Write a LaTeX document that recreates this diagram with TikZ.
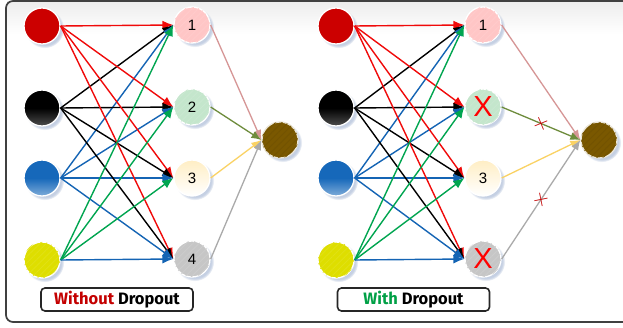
\documentclass[tikz,border=0pt]{standalone}
\usepackage{fontspec}
\setmainfont{Fira Sans}
\newfontfamily\numfont{Liberation Sans}
\usetikzlibrary{arrows.meta,shadows,patterns.meta}

% node fills
\definecolor{cRed}{RGB}{204,0,0}
\definecolor{cBlue}{RGB}{22,104,186}
\definecolor{cYellow}{RGB}{222,222,0}
\definecolor{cPink}{RGB}{255,198,198}
\definecolor{cMint}{RGB}{196,230,204}
\definecolor{cCream}{RGB}{255,238,196}
\definecolor{cGrey}{RGB}{198,198,198}
\definecolor{cBrown}{RGB}{122,88,0}
% connector colours
\definecolor{eRed}{RGB}{240,10,10}
\definecolor{eBlue}{RGB}{20,100,180}
\definecolor{eGreen}{RGB}{0,165,80}
\definecolor{oPink}{RGB}{214,150,150}
\definecolor{oOlive}{RGB}{110,140,60}
\definecolor{oGold}{RGB}{250,210,100}
\definecolor{oGrey}{RGB}{170,170,170}
\definecolor{tRed}{RGB}{196,0,0}
\definecolor{tGreen}{RGB}{0,160,70}
\definecolor{shadowc}{RGB}{150,170,205}

\tikzset{
  neuron/.style={circle, minimum size=36pt, inner sep=0pt, draw=white, line width=1.3pt,
    circular drop shadow={shadow xshift=2.5pt, shadow yshift=-2.5pt, shadow scale=1.08, fill=shadowc, opacity=0.55}},
  stripes/.style={postaction={pattern={Lines[angle=45,distance=4.5pt,line width=0.9pt]}, pattern color=#1}},
  hidnum/.style={font=\numfont\fontsize{15}{15}\selectfont, text=black},
  dropx/.style={font=\numfont\fontsize{29}{29}\selectfont, text=red},
  link/.style={line width=1.4pt, -{Latex[length=11pt,width=9pt]}},
  outlink/.style={line width=1.3pt, -{Latex[length=10pt,width=8pt]}},
  cutmark/.style={font=\fontsize{20}{20}\selectfont, text=tRed, inner sep=0pt, sloped},
  tag/.style={draw=black!85, line width=1.6pt, rounded corners=4pt, fill=white,
    minimum width=152pt, minimum height=23pt, inner sep=0pt,
    font=\bfseries\fontsize{16.5}{16.5}\selectfont},
}

\begin{document}
\begin{tikzpicture}[x=1pt,y=-1pt]
\useasboundingbox (0,0) rectangle (623,328);
\clip (0,0) rectangle (623,328);

% panel frame
\fill[white] (6,1) rectangle (660,322);
\shade[top color=black!7, bottom color=white] (7,2) rectangle (660,34);
\draw[draw=black!75, line width=1.7pt, rounded corners=7pt] (6,1) rectangle (660,322);

% ---------- inputs and output of each network ----------
\foreach \p/\dx/\ox in {L/0/280, R/294/305} {
  \begin{scope}[xshift=\dx]
    \node[neuron, fill=cRed] (\p i1) at (42,26) {};
    \node[neuron, top color=black, bottom color=black!70, middle color=black] (\p i2) at (42,108) {};
    \node[neuron, top color=cBlue, bottom color=cBlue!55!white, middle color=cBlue] (\p i3) at (42,178) {};
    \node[neuron, fill=cYellow, stripes=cYellow!92!white] (\p i4) at (42,260) {};
    \node[neuron, fill=cBrown, stripes=cBrown!94!black, draw=white!85!cBrown] (\p o) at (\ox,140) {};
  \end{scope}
}

% hidden layer, left panel
\node[neuron, fill=cPink, stripes=cPink!92!white, hidnum] (Lh1) at (192,25) {1};
\node[neuron, fill=cMint, stripes=cMint!90!white, hidnum] (Lh2) at (192,107) {2};
\node[neuron, top color=cCream, bottom color=white, hidnum] (Lh3) at (192,178) {3};
\node[neuron, fill=cGrey, stripes=cGrey!90!white, hidnum] (Lh4) at (192,259) {4};

% hidden layer, right panel (two units dropped)
\node[neuron, fill=cPink, stripes=cPink!92!white, hidnum] (Rh1) at (483,25) {1};
\node[neuron, fill=cMint, stripes=cMint!90!white, dropx] (Rh2) at (483,107) {X};
\node[neuron, top color=cCream, bottom color=white, hidnum] (Rh3) at (483,178) {3};
\node[neuron, fill=cGrey, stripes=cGrey!90!white, dropx] (Rh4) at (483,259) {X};

% input -> hidden connections
\foreach \p in {L,R} {
  \foreach \j in {1,2,3,4} {
    \draw[link, eRed] (\p i1.east) -- (\p h\j.west);
    \draw[link, black] (\p i2.east) -- (\p h\j.west);
    \draw[link, eBlue] (\p i3.east) -- (\p h\j.west);
  }
  \foreach \j in {1,2,3} {
    \draw[link, eGreen] (\p i4.east) -- (\p h\j.west);
  }
  \draw[link, eBlue] (\p i4.east) -- (\p h4.west);
}

% hidden -> output connections
\draw[outlink, oPink]  (Lh1.east) -- (Lo.west);
\draw[outlink, oOlive] (Lh2.east) -- (Lo.west);
\draw[outlink, oGold]  (Lh3.east) -- (Lo.west);
\draw[outlink, oGrey]  (Lh4.east) -- (Lo.west);

\draw[outlink, oPink]  (Rh1.east) -- (Ro.west);
\draw[outlink, oOlive] (Rh2.east) -- node[cutmark] {$\times$} (Ro.west);
\draw[outlink, oGold]  (Rh3.east) -- (Ro.west);
\draw[outlink, oGrey]  (Rh4.east) -- node[cutmark] {$\times$} (Ro.west);

% captions
\node[tag] (capL) at (117,299.5) {\textcolor{tRed}{Without} Dropout};
\node[tag] (capR) at (413.5,299.5) {\textcolor{tGreen}{With} Dropout};
\end{tikzpicture}
\end{document}
